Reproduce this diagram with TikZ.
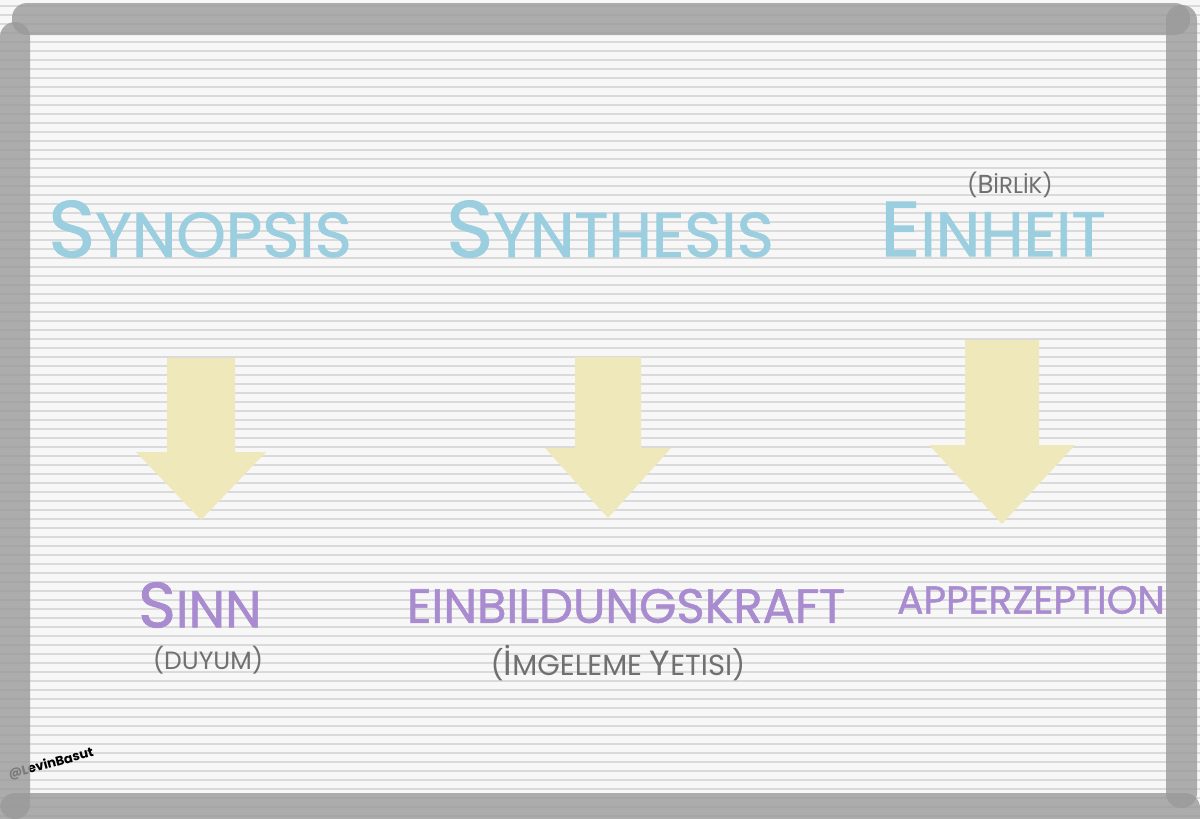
\documentclass[tikz,border=0pt]{standalone}
\usepackage{fontspec}
\setmainfont{Poppins}
\newfontfamily\markerfont[FakeBold=1.2]{Poppins}
\usetikzlibrary{positioning}

\definecolor{boardbg}{HTML}{F7F7F7}
\definecolor{boardline}{HTML}{DADADA}
\definecolor{framegray}{HTML}{9A9A9A}
\definecolor{titleblue}{HTML}{9BCFE0}
\definecolor{wordpurple}{HTML}{A98BD0}
\definecolor{notegray}{HTML}{707070}
\definecolor{arrowyellow}{HTML}{EFE8BA}

% big first letter, smaller rest (hand drawn small caps)
\newcommand{\bigfirst}[3]{{\fontsize{#1}{#1}\selectfont #2}#3}

\tikzset{
  framebar/.style={fill=framegray, fill opacity=0.8, rounded corners=15pt},
  title/.style={text=titleblue, font=\markerfont\fontsize{63}{66}\selectfont, inner sep=0pt},
  word/.style={text=wordpurple, font=\markerfont\fontsize{48}{52}\selectfont, inner sep=0pt},
  note/.style={text=notegray, font=\fontsize{25}{28}\selectfont, inner sep=0pt},
}

\begin{document}
\begin{tikzpicture}[x=1pt, y=-1pt]
    \useasboundingbox (0,0) rectangle (1200,819);
    \clip (0,0) rectangle (1200,819);
    % Board
    \fill[boardbg] (0,0) rectangle (1200,819);
    \foreach \yy in {6,15,...,819}
        \draw[boardline, line width=1.1pt] (0,\yy) -- (1200,\yy);

    % Titles
    \node[title] (synopsis) at (200,229) {\bigfirst{80}{S}{YNOPSIS}};
    \node[title] (synthesis) at (610,229) {\bigfirst{80}{S}{YNTHESIS}};
    \node[title] (einheit) at (993,229) {\bigfirst{78}{E}{INHEIT}};
    \node[note, font=\fontsize{23}{26}\selectfont] (birlik) at (1010,185) {(\bigfirst{26}{B}{İRLİK})};

    % Arrows
    \foreach \cx/\top/\hw/\hy/\hh/\tip in {201/358/34/452/65/520, 608/357/33/448/63/518, 1002/340/37/445/73/524}
        \fill[arrowyellow] (\cx-\hw,\top) -- (\cx+\hw,\top) -- (\cx+\hw,\hy) -- (\cx+\hh,\hy)
            -- (\cx,\tip) -- (\cx-\hh,\hy) -- (\cx-\hw,\hy) -- cycle;

    % Results
    \node[word, font=\markerfont\fontsize{52}{56}\selectfont] (sinn) at (200,605) {\bigfirst{64}{S}{INN}};
    \node[note, below=18pt of sinn, xshift=8pt] (duyum) {(DUYUM)};
    \node[word] (kraft) at (626,606) {EINBILDUNGSKRAFT};
    \node[note, font=\fontsize{29}{32}\selectfont, below=22pt of kraft, xshift=-8pt] (imgeleme) {(\bigfirst{35}{İ}{MGELEME} \bigfirst{35}{Y}{ETISI})};
    \node[word, font=\markerfont\fontsize{39}{42}\selectfont] (apperz) at (1031,600) {APPERZEPTION};

    % Signature
    \node[font=\bfseries\fontsize{13}{15}\selectfont, rotate=15, inner sep=0pt] (sign) at (51,764) {@LevinBasut};

    % Frame
    \fill[framebar] (12,3) rectangle (1190,35);
    \fill[framebar] (0,793) rectangle (1200,850);
    \fill[framebar] (0,22) rectangle (30,819);
    \fill[framebar] (1166,5) rectangle (1197,808);
\end{tikzpicture}
\end{document}
